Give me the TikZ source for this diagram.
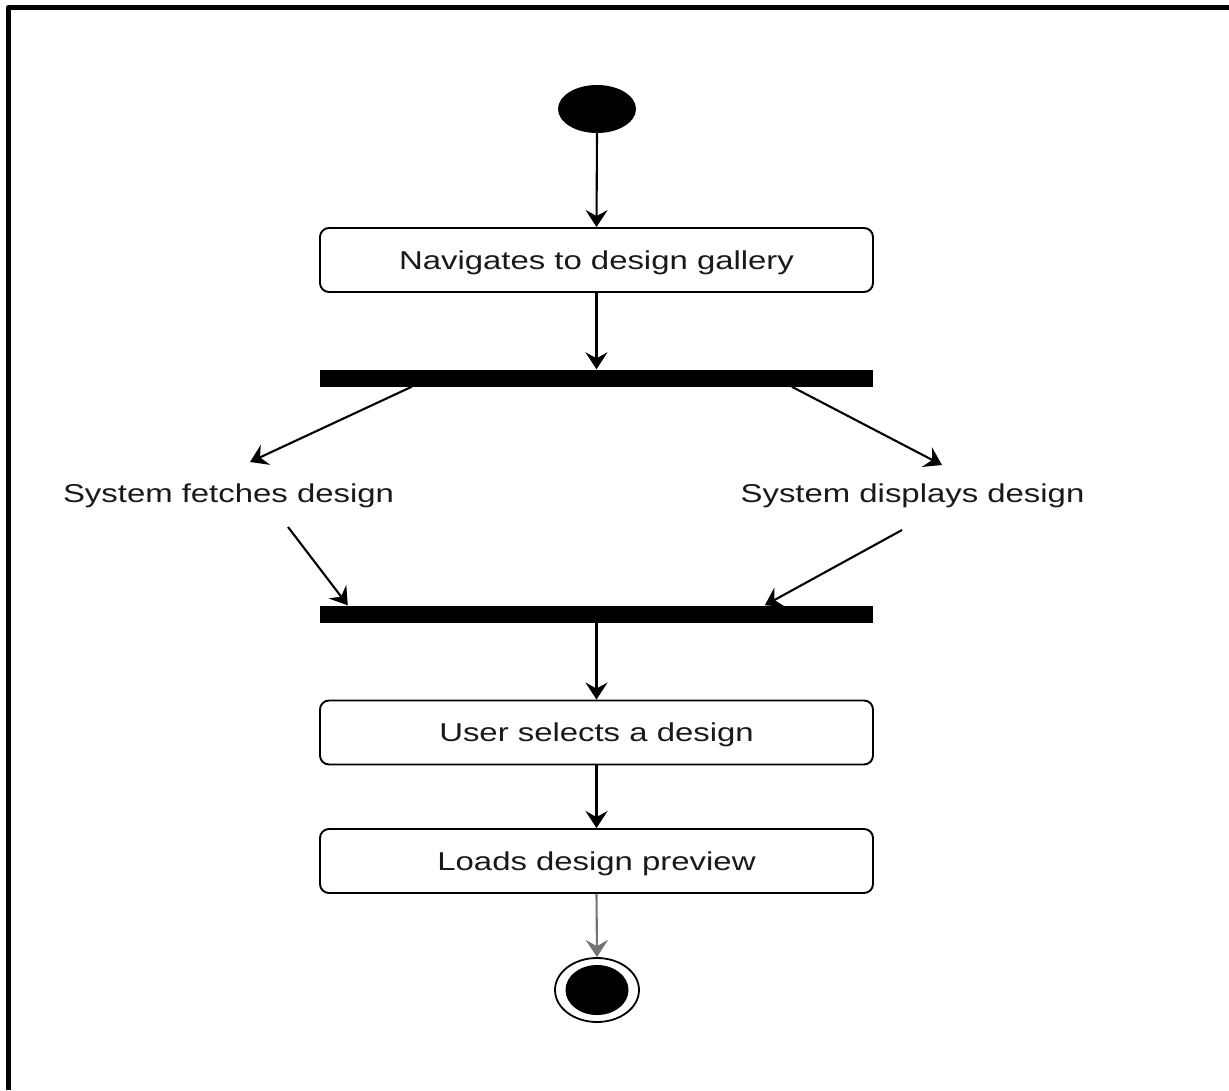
\documentclass[tikz,border=0pt]{standalone}
\usepackage{fontspec}
\usepackage{graphicx}
\setmainfont{Liberation Sans}
\usetikzlibrary{arrows.meta,shapes.geometric,calc}
% labels are set a little wider than the font's natural shape
\newcommand\widetext[1]{\scalebox{1.275}[1]{#1}}
\begin{document}
\begin{tikzpicture}[x=1pt,y=-1pt,
  flow/.style={draw=black, line width=2.1pt,
    -{Stealth[length=17pt,width=22pt,inset=6pt]}},
  lastflow/.style={flow, draw=black!55},
  action/.style={draw=black, line width=1.9pt, rounded corners=9pt,
    minimum width=553pt, minimum height=64pt, inner sep=0pt, text depth=0pt,
    font=\fontsize{25.8}{30}\selectfont, text=black!90},
  forkbar/.style={fill=black, draw=none, minimum width=553pt,
    minimum height=17pt, inner sep=0pt},
  label/.style={inner sep=0pt, text depth=0pt, font=\fontsize{25.8}{30}\selectfont, text=black!90},
  startdot/.style={ellipse, fill=black, minimum width=78pt, minimum height=48pt, inner sep=0pt},
  endring/.style={ellipse, draw=black, line width=1.8pt, fill=white,
    minimum width=84pt, minimum height=64pt, inner sep=0pt},
  enddot/.style={ellipse, fill=black, minimum width=63pt, minimum height=50pt, inner sep=0pt}]
\useasboundingbox (0,0) rectangle (1229,1090);
\fill[white] (0,0) rectangle (1229,1090);

% frame along the top and left edges
\draw[line width=5pt, line join=round] (8.5,1090) -- (8.5,7.5) -- (1229,7.5);

% activity nodes
\node[startdot] (start) at (597,109) {};
\node[action] (nav) at (596.5,260) {\widetext{Navigates to design gallery}};
\node[forkbar] (fork) at (596.5,378) {};
\node[label] (fetch) at (228.5,493) {\widetext{System fetches design}};
\node[label] (show) at (912.5,493) {\widetext{System displays design}};
\node[forkbar] (join) at (596.5,614) {};
\node[action] (select) at (596.5,732.5) {\widetext{User selects a design}};
\node[action] (load) at (596.5,861) {\widetext{Loads design preview}};
\node[endring] (stop) at (597,990) {};
\node[enddot] (stopdot) at (597,990) {};

% free ends of the slanted connectors next to the labels
\coordinate (fetchIn) at (250,462);
\coordinate (fetchOut) at (288,527);
\coordinate (showIn) at (942,465);
\coordinate (showOut) at (902,530);

% connectors
\draw[flow] (start.south) -- (nav.north);
\draw[flow] (nav.south) -- (fork.north);
\draw[flow] ($(fork.south west)+(92,0)$) -- (fetchIn);
\draw[flow] ($(fork.south west)+(472,0)$) -- (showIn);
\draw[flow] (fetchOut) -- ($(join.north west)+(28,0)$);
\draw[flow] (showOut) -- ($(join.north west)+(445,0)$);
\draw[flow] (join.south) -- (select.north);
\draw[flow] (select.south) -- (load.north);
\draw[lastflow] (load.south) -- (stop.north);
\end{tikzpicture}
\end{document}
